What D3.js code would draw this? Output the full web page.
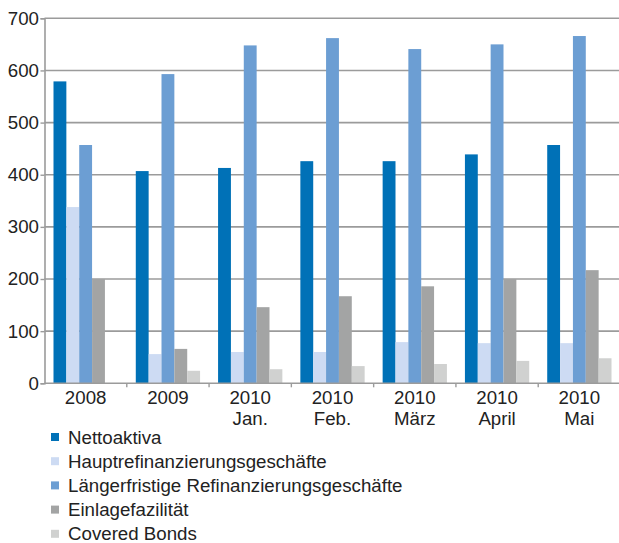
<!DOCTYPE html>
<html>
<head>
<meta charset="utf-8">
<script src="https://cdn.jsdelivr.net/npm/d3@7"></script>
<style>
    body { margin: 0; background: #fff; }
    svg { display: block; font-family: 'Liberation Sans', Arial, sans-serif; }
</style>
</head>
<body>
<svg width="619" height="543"></svg>
<script>
// data

let categories = ['2008', '2009', '2010 Jan.', '2010 Feb.', '2010 März', '2010 April', '2010 Mai'];

let seriesNames = [
    'Nettoaktiva',
    'Hauptrefinanzierungsgeschäfte',
    'Längerfristige Refinanzierungsgeschäfte',
    'Einlagefazilität',
    'Covered Bonds',
];

let nettoaktiva = [579, 407, 413, 426, 426, 439, 457];
let hauptrefi   = [338, 56, 60, 60, 79, 77, 77];
let laengerfr   = [457, 593, 648, 662, 641, 650, 666];
let einlage     = [200, 66, 146, 167, 186, 200, 217];
let covered     = [0, 24, 27, 33, 37, 43, 48];

let yTicks = [0, 100, 200, 300, 400, 500, 600, 700];

let colors = ['#0071b7', '#cddbf3', '#6c9ed3', '#a3a4a4', '#d0d1d0'];

let series = [nettoaktiva, hauptrefi, laengerfr, einlage, covered];

// layout

let svg = d3.select('svg');
let plotLeft = 44.5, plotRight = 620.5, plotTop = 18.3, plotBottom = 383.3;
let fontSize = '18.7px';

let x = d3.scaleBand()
    .domain(categories)
    .range([plotLeft, plotRight])
    .paddingInner(0)
    .paddingOuter(0);

let inner = d3.scaleBand()
    .domain(d3.range(series.length))
    .range([0, x.bandwidth()])
    .paddingOuter(0.7)
    .paddingInner(0);

let y = d3.scaleLinear()
    .domain([0, 700])
    .range([plotBottom, plotTop]);

// grid

svg.append('g')
    .selectAll('line')
    .data(yTicks.slice(1))
    .enter()
    .append('line')
    .attr('x1', plotLeft)
    .attr('x2', 619)
    .attr('y1', d => y(d))
    .attr('y2', d => y(d))
    .style('stroke', '#9b9b9b')
    .style('stroke-width', 1.6);

// bars

series.forEach((values, s) => {
    svg.append('g')
        .selectAll('rect')
        .data(values)
        .enter()
        .append('rect')
        .attr('x', (d, i) => x(categories[i]) + inner(s))
        .attr('width', inner.bandwidth())
        .attr('y', d => y(d))
        .attr('height', d => y(0) - y(d))
        .attr('fill', colors[s]);
});

// axes

let yAxis = svg.append('g')
    .attr('transform', `translate(${plotLeft},0)`)
    .call(d3.axisLeft(y).tickValues(yTicks).tickSize(4).tickPadding(1.5));

yAxis.select('.domain').style('stroke', '#9b9b9b').style('stroke-width', 1.6);
yAxis.selectAll('.tick line').style('stroke', '#9b9b9b').style('stroke-width', 1.4);
yAxis.selectAll('text')
    .attr('font-family', null)
    .style('font-size', fontSize)
    .style('fill', '#222');
yAxis.attr('font-family', null);

let xAxis = svg.append('g')
    .attr('transform', `translate(0,${plotBottom})`);

xAxis.append('line')
    .attr('x1', plotLeft)
    .attr('x2', 619)
    .style('stroke', '#9b9b9b')
    .style('stroke-width', 1.6);

xAxis.selectAll('.tick')
    .data(categories.slice(1))
    .enter()
    .append('line')
    .attr('x1', d => x(d))
    .attr('x2', d => x(d))
    .attr('y1', 0)
    .attr('y2', 4)
    .style('stroke', '#9b9b9b')
    .style('stroke-width', 1.4);

xAxis.selectAll('.label')
    .data(categories)
    .enter()
    .append('text')
    .attr('text-anchor', 'middle')
    .style('font-size', fontSize)
    .style('fill', '#222')
    .attr('transform', d => `translate(${x(d) + x.bandwidth() / 2},0)`)
    .each(function(d) {
        let parts = d.split(' ');
        d3.select(this).selectAll('tspan')
            .data(parts)
            .enter()
            .append('tspan')
            .attr('x', 0)
            .attr('y', (p, j) => 20.5 + j * 21)
            .text(p => p);
    });

// legend

let legend = svg.append('g')
    .attr('transform', 'translate(51,437)');

let item = legend.selectAll('.item')
    .data(seriesNames)
    .enter()
    .append('g')
    .attr('transform', (d, i) => `translate(0,${i * 24.2})`);

item.append('rect')
    .attr('x', 0)
    .attr('y', -4)
    .attr('width', 8)
    .attr('height', 8)
    .attr('fill', (d, i) => colors[i]);

item.append('text')
    .attr('x', 17)
    .attr('dy', '0.35em')
    .style('font-size', fontSize)
    .style('fill', '#222')
    .text(d => d);
</script>
</body>
</html>
